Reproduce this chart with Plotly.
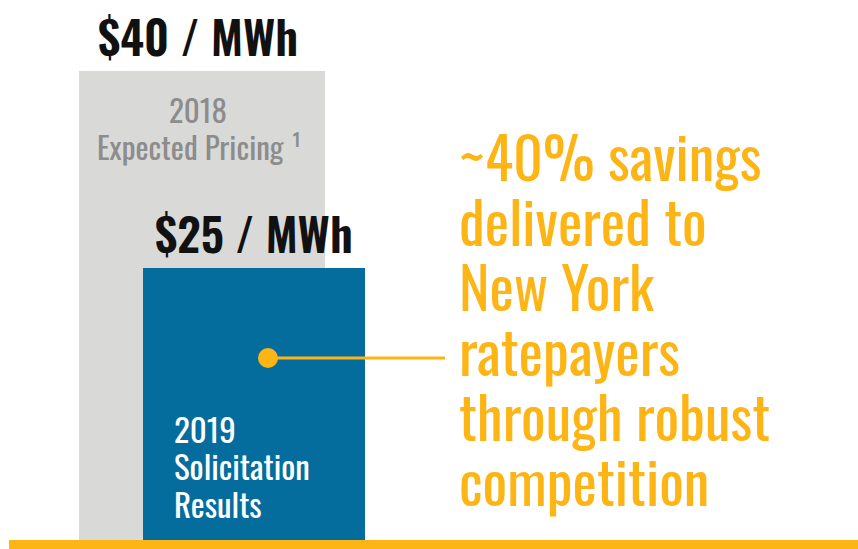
import plotly.graph_objects as go

# ---- data ----
categories = ["2018 Expected Pricing", "2019 Solicitation Results"]
prices = [40, 25]  # $ / MWh
year_labels = ["2018", "2019"]
bar_sublabels = [["Expected Pricing ¹"], ["Solicitation", "Results"]]
callout_lines = ["~40% savings", "delivered to", "New York", "ratepayers",
                 "through robust", "competition"]

# ---- style / layout ----
W, H = 858, 549
GRAY_BAR = "#d9d9d8"
BLUE_BAR = "#046d9e"
YELLOW = "#fdb515"
GRAY_TXT = "#8c8c8c"
FONT = "Oswald, Roboto Condensed, sans-serif"

bar_x = [202, 254]
bar_w = [246, 222]
bar_colors = [GRAY_BAR, BLUE_BAR]

def py(y):  # pixel -> paper
    return 1 - y / H

def px(x):
    return x / W

fig = go.Figure()
for i in range(2):
    fig.add_trace(go.Bar(
        x=[bar_x[i]], y=[prices[i]], width=[bar_w[i]], name=categories[i],
        marker=dict(color=bar_colors[i], line=dict(width=0)),
        hoverinfo="skip", showlegend=False,
    ))

# connector line + dot
fig.add_shape(type="line", xref="x", yref="paper", x0=268, x1=445,
              y0=py(358), y1=py(358), line=dict(color=YELLOW, width=3))
fig.add_trace(go.Scatter(x=[268], y=[0], mode="markers", yaxis="y2",
                         marker=dict(color=YELLOW, size=20), hoverinfo="skip",
                         showlegend=False))

# baseline
fig.add_shape(type="rect", xref="paper", yref="paper", x0=px(9), x1=1,
              y0=0, y1=py(540), fillcolor=YELLOW, line=dict(width=0), layer="above")

ann = []
# value labels
for i in range(2):
    ann.append(dict(x=bar_x[i] - 4 if i == 0 else bar_x[i], y=prices[i], xref="x", yref="y",
                    text=f"${prices[i]} / MWh", showarrow=False,
                    xanchor="center", yanchor="bottom", yshift=0,
                    font=dict(family=FONT, size=46, weight=600, color="#111111")))
# gray bar labels
ann.append(dict(x=198, y=py(109), xref="x", yref="paper", text=year_labels[0],
                xanchor="center", yanchor="middle",
                showarrow=False, font=dict(family=FONT, size=31, color=GRAY_TXT)))
ann.append(dict(x=199, y=py(146), xref="x", yref="paper", text=bar_sublabels[0][0],
                xanchor="center", yanchor="middle",
                showarrow=False, font=dict(family=FONT, size=31, color=GRAY_TXT)))
# blue bar labels
for j, t in enumerate([year_labels[1]] + bar_sublabels[1]):
    ann.append(dict(x=172, y=py(428 + 37.5 * j), xref="x", yref="paper", text=t,
                    xanchor="left", yanchor="middle", showarrow=False,
                    font=dict(family=FONT, size=33, color="white")))
# callout text
for j, t in enumerate(callout_lines):
    ann.append(dict(x=px(457), y=py(155 + 65 * j), xref="paper", yref="paper", text=t,
                    xanchor="left", yanchor="middle", showarrow=False,
                    font=dict(family=FONT, size=58, color=YELLOW)))

# y scale: gray top at 71px, blue top at 268px
s = (268 - 71) / (prices[0] - prices[1])
p0 = 71 + prices[0] * s
fig.update_layout(
    width=W, height=H, margin=dict(l=0, r=0, t=0, b=0),
    paper_bgcolor="white", plot_bgcolor="white",
    barmode="overlay", bargap=0,
    xaxis=dict(range=[0, W], visible=False, fixedrange=True),
    yaxis=dict(range=[(p0 - H) / s, p0 / s], visible=False, fixedrange=True),
    yaxis2=dict(range=[-(H - 358) / H, 358 / H], overlaying="y", visible=False),
    annotations=ann, showlegend=False,
)
fig.write_html("out.html", config={"displayModeBar": False},
               post_script="document.body.style.margin='0px';")
